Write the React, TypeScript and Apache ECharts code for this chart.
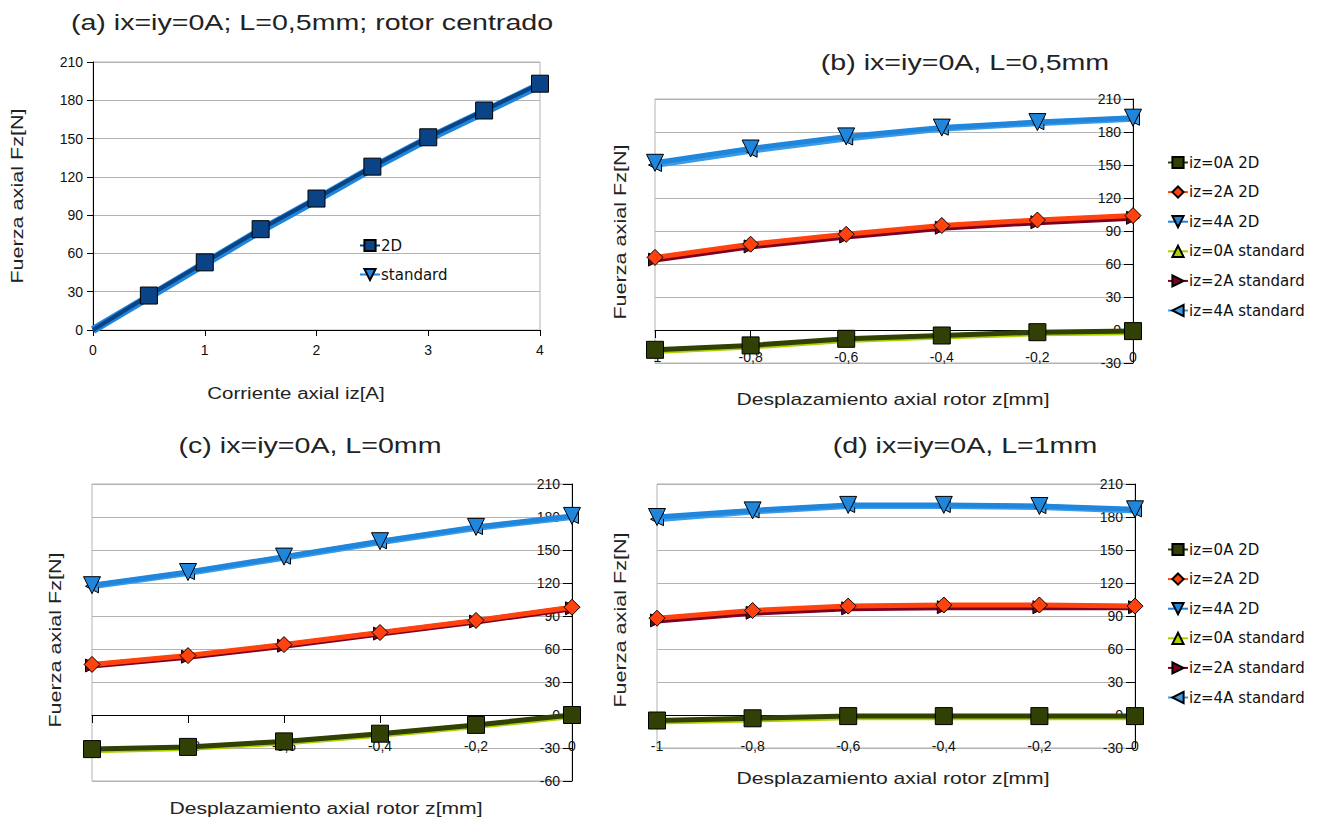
import React, { useEffect, useRef } from "react";
import * as echarts from "echarts";

// ---------- data ----------
const izA = [0, 0.5, 1, 1.5, 2, 2.5, 3, 3.5, 4];
const a2D = [0, 27, 53, 79, 103, 128, 151, 172, 193];
const aStd = [0, 26, 52, 78, 102, 127, 150, 171, 192];

const zVals = [-1, -0.8, -0.6, -0.4, -0.2, 0];

const b0_2D = [-18, -14, -8, -5, -2, -1];
const b2_2D = [66, 78, 87, 95, 100, 104];
const b4_2D = [152, 165, 176, 184, 189, 193];
const b0_std = [-19, -15, -9, -6, -3, -2];
const b2_std = [64, 76, 85, 93, 98, 102];
const b4_std = [150, 163, 174, 183, 188, 192];

const c0_2D = [-31, -29, -24, -17, -9, 0];
const c2_2D = [46, 54, 64, 75, 86, 98];
const c4_2D = [118, 130, 144, 158, 171, 181];
const c0_std = [-32, -30, -25, -18, -10, -1];
const c2_std = [45, 53, 63, 74, 85, 97];
const c4_std = [117, 129, 143, 157, 170, 180];

const d0_2D = [-5, -3, -1, -1, -1, -1];
const d2_2D = [88, 95, 99, 100, 100, 99];
const d4_2D = [180, 186, 191, 191, 190, 187];
const d0_std = [-6, -4, -2, -2, -2, -2];
const d2_std = [86, 93, 97, 98, 98, 98];
const d4_std = [178, 185, 190, 190, 189, 186];

const seriesNames = [
  "iz=0A 2D",
  "iz=2A 2D",
  "iz=4A 2D",
  "iz=0A standard",
  "iz=2A standard",
  "iz=4A standard",
];
const panelANames = ["2D", "standard"];

const titles = [
  "(a) ix=iy=0A; L=0,5mm; rotor centrado",
  "(b) ix=iy=0A, L=0,5mm",
  "(c) ix=iy=0A, L=0mm",
  "(d) ix=iy=0A, L=1mm",
];
const yTitle = "Fuerza axial Fz[N]";
const xTitleA = "Corriente axial iz[A]";
const xTitleZ = "Desplazamiento axial rotor z[mm]";

// ---------- styles ----------
const FONT = "Liberation Sans, Arial, sans-serif";
const LFONT = "DejaVu Sans, sans-serif";
const TRI_DOWN = "path://M0,0 L10,0 L5,10 Z";
const TRI_LEFT = "path://M10,0 L10,10 L0,5 Z";
const TRI_RIGHT = "path://M0,0 L10,5 L0,10 Z";

const styles = [
  { color: "#314004", symbol: "rect", size: 17 },
  { color: "#ff420e", symbol: "diamond", size: 16 },
  { color: "#1f86dc", symbol: TRI_DOWN, size: 17 },
  { color: "#aecf00", symbol: "triangle", size: 13 },
  { color: "#7e0021", symbol: TRI_RIGHT, size: 13 },
  { color: "#3a9be8", symbol: TRI_LEFT, size: 13 },
];

function lineSeries(name: string, idx: number, xs: number[], ys: number[], st: any, width: number, z: number) {
  return {
    name,
    type: "line",
    xAxisIndex: idx,
    yAxisIndex: idx,
    data: xs.map((x, i) => (x === 0 && idx === 0 ? { value: [x, ys[i]], symbol: "none" } : [x, ys[i]])),
    symbol: st.symbol,
    symbolSize: st.size,
    itemStyle: { color: st.color, borderColor: "#000", borderWidth: 1 },
    lineStyle: { color: st.color, width },
    z,
  };
}

function zPanel(idx: number, sets: number[][]) {
  const out: any[] = [];
  for (let k = 3; k < 6; k++) out.push(lineSeries(seriesNames[k], idx, zVals, sets[k], styles[k], 6, 2));
  for (let k = 0; k < 3; k++) out.push(lineSeries(seriesNames[k], idx, zVals, sets[k], styles[k], 5, 3));
  return out;
}

const commaFmt = (v: number) => String(Math.round(v * 10) / 10).replace(".", ",");

const Y_MAX = 210;
const gridsZ = [
  { left: 655, top: 99, width: 478, height: 264, ymin: -30, margin: 20 },
  { left: 92, top: 484, width: 480, height: 297, ymin: -60, margin: 24 },
  { left: 657, top: 484, width: 478, height: 264, ymin: -30, margin: 24 },
];

function xAxisZ(idx: number, g: any) {
  return {
    gridIndex: idx,
    type: "value",
    position: "bottom",
    min: -1,
    max: 0,
    interval: 0.2,
    offset: -(g.height * (0 - g.ymin)) / (Y_MAX - g.ymin),
    axisLine: { onZero: false, lineStyle: { color: "#000", width: 1 } },
    axisTick: { show: true, length: 8, lineStyle: { color: "#000" } },
    axisLabel: { margin: g.margin, color: "#111", fontSize: 14, fontFamily: FONT, formatter: commaFmt },
    splitLine: { show: false },
  };
}

function yAxisZ(idx: number, g: any) {
  return {
    gridIndex: idx,
    type: "value",
    position: "right",
    min: g.ymin,
    max: Y_MAX,
    interval: 30,
    axisLine: { show: true, onZero: false, lineStyle: { color: "#000", width: 1 } },
    axisTick: { show: true, inside: true, length: 9, lineStyle: { color: "#000" } },
    axisLabel: { inside: true, margin: 12, color: "#111", fontSize: 14, fontFamily: FONT },
    splitLine: { show: true, lineStyle: { color: "#b3b3b3", width: 1 } },
  };
}

function txt(text: string, x: number, y: number, size: number, sx: number, rot = 0) {
  return {
    type: "text",
    x,
    y,
    rotation: rot,
    scaleX: sx,
    style: {
      text,
      fill: "#222",
      font: `${size}px ${FONT}`,
      textAlign: "center",
      textVerticalAlign: "middle",
    },
    z: 10,
  };
}

const legendText = { fontSize: 15, fontFamily: LFONT, color: "#111", lineHeight: 14, padding: [0, 0, 0, -4] };

export default function App() {
  const ref = useRef<HTMLDivElement>(null);
  useEffect(() => {
    if (!ref.current) return;
    const chart = echarts.init(ref.current, undefined, { renderer: "svg" });
    const gridBase = { show: true, borderColor: "#b3b3b3", borderWidth: 1, backgroundColor: "transparent" };
    const option: any = {
      animation: false,
      backgroundColor: "#ffffff",
      grid: [
        { ...gridBase, left: 93, top: 62, width: 447, height: 268 },
        ...gridsZ.map((g) => ({ ...gridBase, left: g.left, top: g.top, width: g.width, height: g.height })),
      ],
      xAxis: [
        {
          gridIndex: 0,
          type: "value",
          min: 0,
          max: 4,
          interval: 1,
          axisLine: { onZero: false, lineStyle: { color: "#000" } },
          axisTick: { show: true, length: 6, lineStyle: { color: "#000" } },
          axisLabel: { margin: 13, color: "#111", fontSize: 14, fontFamily: FONT },
          splitLine: { show: false },
        },
        ...gridsZ.map((g, i) => xAxisZ(i + 1, g)),
      ],
      yAxis: [
        {
          gridIndex: 0,
          type: "value",
          min: 0,
          max: Y_MAX,
          interval: 30,
          axisLine: { show: true, onZero: false, lineStyle: { color: "#000" } },
          axisTick: { show: true, length: 6, lineStyle: { color: "#000" } },
          axisLabel: { margin: 10, color: "#111", fontSize: 14, fontFamily: FONT },
          splitLine: { show: true, lineStyle: { color: "#b3b3b3" } },
        },
        ...gridsZ.map((g, i) => yAxisZ(i + 1, g)),
      ],
      legend: [
        {
          data: panelANames,
          orient: "vertical",
          left: 354,
          top: 233,
          itemWidth: 20,
          itemHeight: 14,
          itemGap: 14,
          selectedMode: false,
          textStyle: legendText,
        },
        {
          data: seriesNames,
          orient: "vertical",
          left: 1162,
          top: 150,
          itemWidth: 20,
          itemHeight: 14,
          itemGap: 14.6,
          selectedMode: false,
          textStyle: legendText,
        },
        {
          data: seriesNames,
          orient: "vertical",
          left: 1162,
          top: 537,
          itemWidth: 20,
          itemHeight: 14,
          itemGap: 14.6,
          selectedMode: false,
          textStyle: legendText,
        },
      ],
      series: [
        lineSeries("standard", 0, izA, aStd, { color: "#1f86dc", symbol: TRI_DOWN, size: 14 }, 8, 2),
        lineSeries("2D", 0, izA, a2D, { color: "#0b4486", symbol: "rect", size: 17 }, 4, 3),
        ...zPanel(1, [b0_2D, b2_2D, b4_2D, b0_std, b2_std, b4_std]),
        ...zPanel(2, [c0_2D, c2_2D, c4_2D, c0_std, c2_std, c4_std]),
        ...zPanel(3, [d0_2D, d2_2D, d4_2D, d0_std, d2_std, d4_std]),
      ],
      graphic: [
        txt(titles[0], 312, 22, 22, 1.3),
        txt(titles[1], 965, 62, 22, 1.3),
        txt(titles[2], 310, 445, 22, 1.3),
        txt(titles[3], 965, 445, 22, 1.3),
        txt(yTitle, 18, 196, 16, 1.35, Math.PI / 2),
        txt(yTitle, 621, 232, 16, 1.35, Math.PI / 2),
        txt(yTitle, 56, 640, 16, 1.35, Math.PI / 2),
        txt(yTitle, 621, 620, 16, 1.35, Math.PI / 2),
        txt(xTitleA, 296, 393, 16, 1.28),
        txt(xTitleZ, 893, 399, 16, 1.32),
        txt(xTitleZ, 326, 808, 16, 1.32),
        txt(xTitleZ, 893, 778, 16, 1.32),
      ],
    };
    chart.setOption(option);
    return () => chart.dispose();
  }, []);
  return (
    <div
      ref={ref}
      style={{ position: "fixed", left: 0, top: 0, width: 1327, height: 823, background: "#fff" }}
    />
  );
}
